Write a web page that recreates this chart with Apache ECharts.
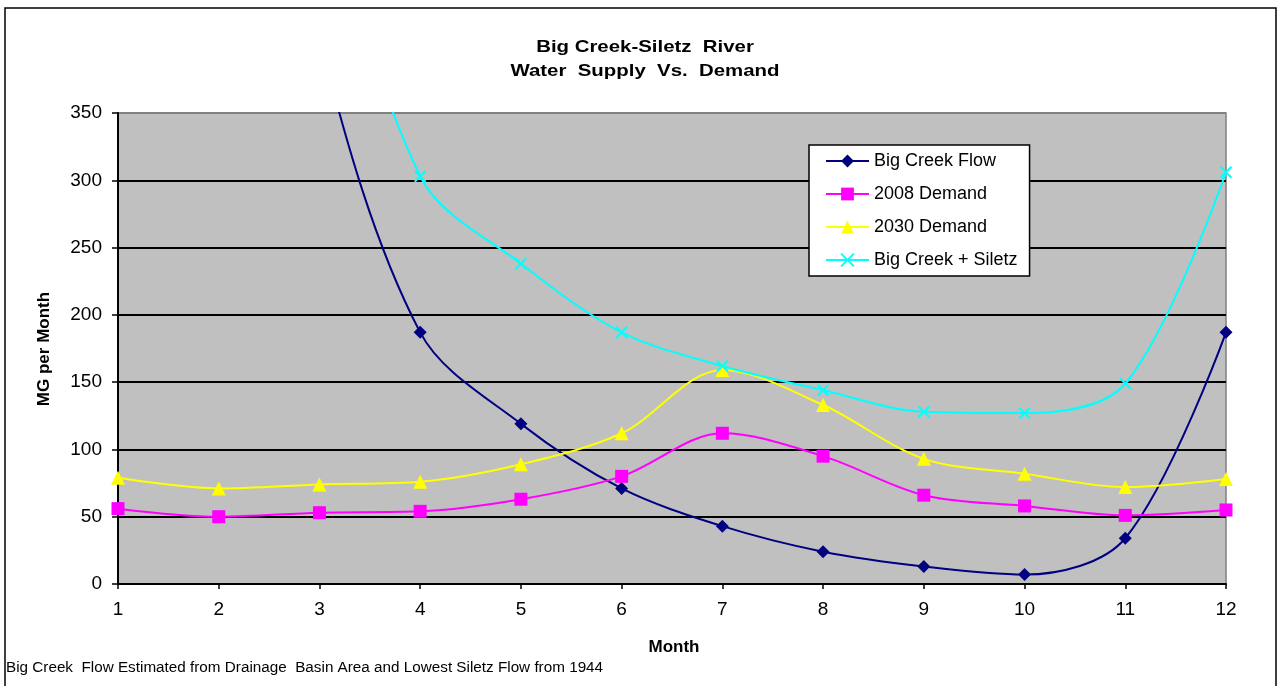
<!DOCTYPE html>
<html>
<head>
<meta charset="utf-8">
<script src="https://cdn.jsdelivr.net/npm/echarts@6/dist/echarts.min.js"></script>
<style>
  html, body { margin: 0; padding: 0; background: #fff; }
  #chart { width: 1280px; height: 686px; }
</style>
</head>
<body>
<div id="chart"></div>
<script>
// Monthly supply and demand, million gallons per month
const months = ['1', '2', '3', '4', '5', '6', '7', '8', '9', '10', '11', '12'];
const bigCreekFlow = [900, 760, 405, 187, 119, 71, 43, 24, 13, 7, 34, 187];
const demand2008 = [56, 50, 53, 54, 63, 80, 112, 95, 66, 58, 51, 55];
const demand2030 = [79, 71, 74, 76, 89, 112, 159, 133, 93, 82, 72, 78];
const bigCreekPlusSiletz = [1018, 878, 545, 303, 238, 187, 162, 144, 128, 127, 149, 306];
const yTicks = [0, 50, 100, 150, 200, 250, 300, 350];

const FONT = '"Liberation Sans", Arial, sans-serif';
const CROSS = 'path://M0,0L10,10M0,10L10,0';

const chart = echarts.init(document.getElementById('chart'), null, { renderer: 'canvas' });

function lineSeries(name, data, color, symbol, size, extra) {
  return Object.assign({
    name: name,
    type: 'line',
    data: data,
    smooth: 0.33,
    clip: true,
    symbol: symbol,
    symbolSize: size,
    lineStyle: { color: color, width: 2 },
    itemStyle: { color: color },
    emphasis: { disabled: true },
    z: 3
  }, extra || {});
}

chart.setOption({
  animation: false,
  backgroundColor: '#ffffff',
  textStyle: { fontFamily: FONT },
  grid: {
    left: 118, right: 54, top: 113, bottom: 102,
    show: true,
    backgroundColor: '#C0C0C0',
    borderColor: '#808080',
    borderWidth: 1.5
  },
  legend: {
    orient: 'vertical',
    left: 809, top: 145,
    backgroundColor: '#ffffff',
    borderColor: '#000000',
    borderWidth: 1.5,
    borderRadius: 0,
    padding: [7, 12, 7, 16],
    itemWidth: 43,
    itemHeight: 16,
    itemGap: 15,
    selectedMode: false,
    textStyle: { fontFamily: FONT, fontSize: 18, color: '#000', lineHeight: 18 },
    data: ['Big Creek Flow', '2008 Demand', '2030 Demand', 'Big Creek + Siletz']
  },
  xAxis: {
    type: 'category',
    data: months,
    boundaryGap: false,
    axisLine: { lineStyle: { color: '#000', width: 2 } },
    axisTick: { show: true, length: 5, lineStyle: { color: '#000', width: 1.5 } },
    axisLabel: { color: '#000', fontSize: 19, fontFamily: FONT, margin: 16 },
    splitLine: { show: false }
  },
  yAxis: {
    type: 'value',
    min: 0, max: 350, interval: 50,
    axisLine: { show: true, lineStyle: { color: '#000', width: 2 } },
    axisTick: { show: true, length: 6, lineStyle: { color: '#000', width: 1.5 } },
    axisLabel: { color: '#000', fontSize: 19, fontFamily: FONT, margin: 16 },
    splitLine: {
      show: true,
      lineStyle: {
        color: yTicks.map(function (v) { return v === 350 ? '#808080' : '#000000'; }),
        width: 2
      }
    }
  },
  series: [
    lineSeries('Big Creek Flow', bigCreekFlow, '#000080', 'diamond', 13),
    lineSeries('2008 Demand', demand2008, '#FF00FF', 'rect', 13),
    lineSeries('2030 Demand', demand2030, '#FFFF00', 'triangle', 14),
    lineSeries('Big Creek + Siletz', bigCreekPlusSiletz, '#00FFFF', CROSS, 11, {
      itemStyle: { color: '#00FFFF', borderColor: '#00FFFF', borderWidth: 2 }
    })
  ],
  graphic: [
    {
      type: 'rect', silent: true, z: -1,
      shape: { x: 5, y: 8, width: 1271, height: 700 },
      style: { fill: null, stroke: '#000', lineWidth: 1.5 }
    },
    {
      type: 'text', silent: true,
      x: 645, y: 47, scaleX: 1.2,
      style: { text: 'Big Creek-Siletz  River', font: 'bold 17px ' + FONT, fill: '#000', align: 'center', verticalAlign: 'middle' }
    },
    {
      type: 'text', silent: true,
      x: 645, y: 71, scaleX: 1.2,
      style: { text: 'Water  Supply  Vs.  Demand', font: 'bold 17px ' + FONT, fill: '#000', align: 'center', verticalAlign: 'middle' }
    },
    {
      type: 'text', silent: true,
      x: 44, y: 349, rotation: Math.PI / 2,
      style: { text: 'MG per Month', font: 'bold 17px ' + FONT, fill: '#000', align: 'center', verticalAlign: 'middle' }
    },
    {
      type: 'text', silent: true,
      x: 674, y: 647,
      style: { text: 'Month', font: 'bold 17px ' + FONT, fill: '#000', align: 'center', verticalAlign: 'middle' }
    },
    {
      type: 'text', silent: true,
      x: 6, y: 668, scaleX: 1.09,
      style: { text: 'Big Creek  Flow Estimated from Drainage  Basin Area and Lowest Siletz Flow from 1944', font: '14px ' + FONT, fill: '#000', align: 'left', verticalAlign: 'middle' }
    }
  ]
});
</script>
</body>
</html>
